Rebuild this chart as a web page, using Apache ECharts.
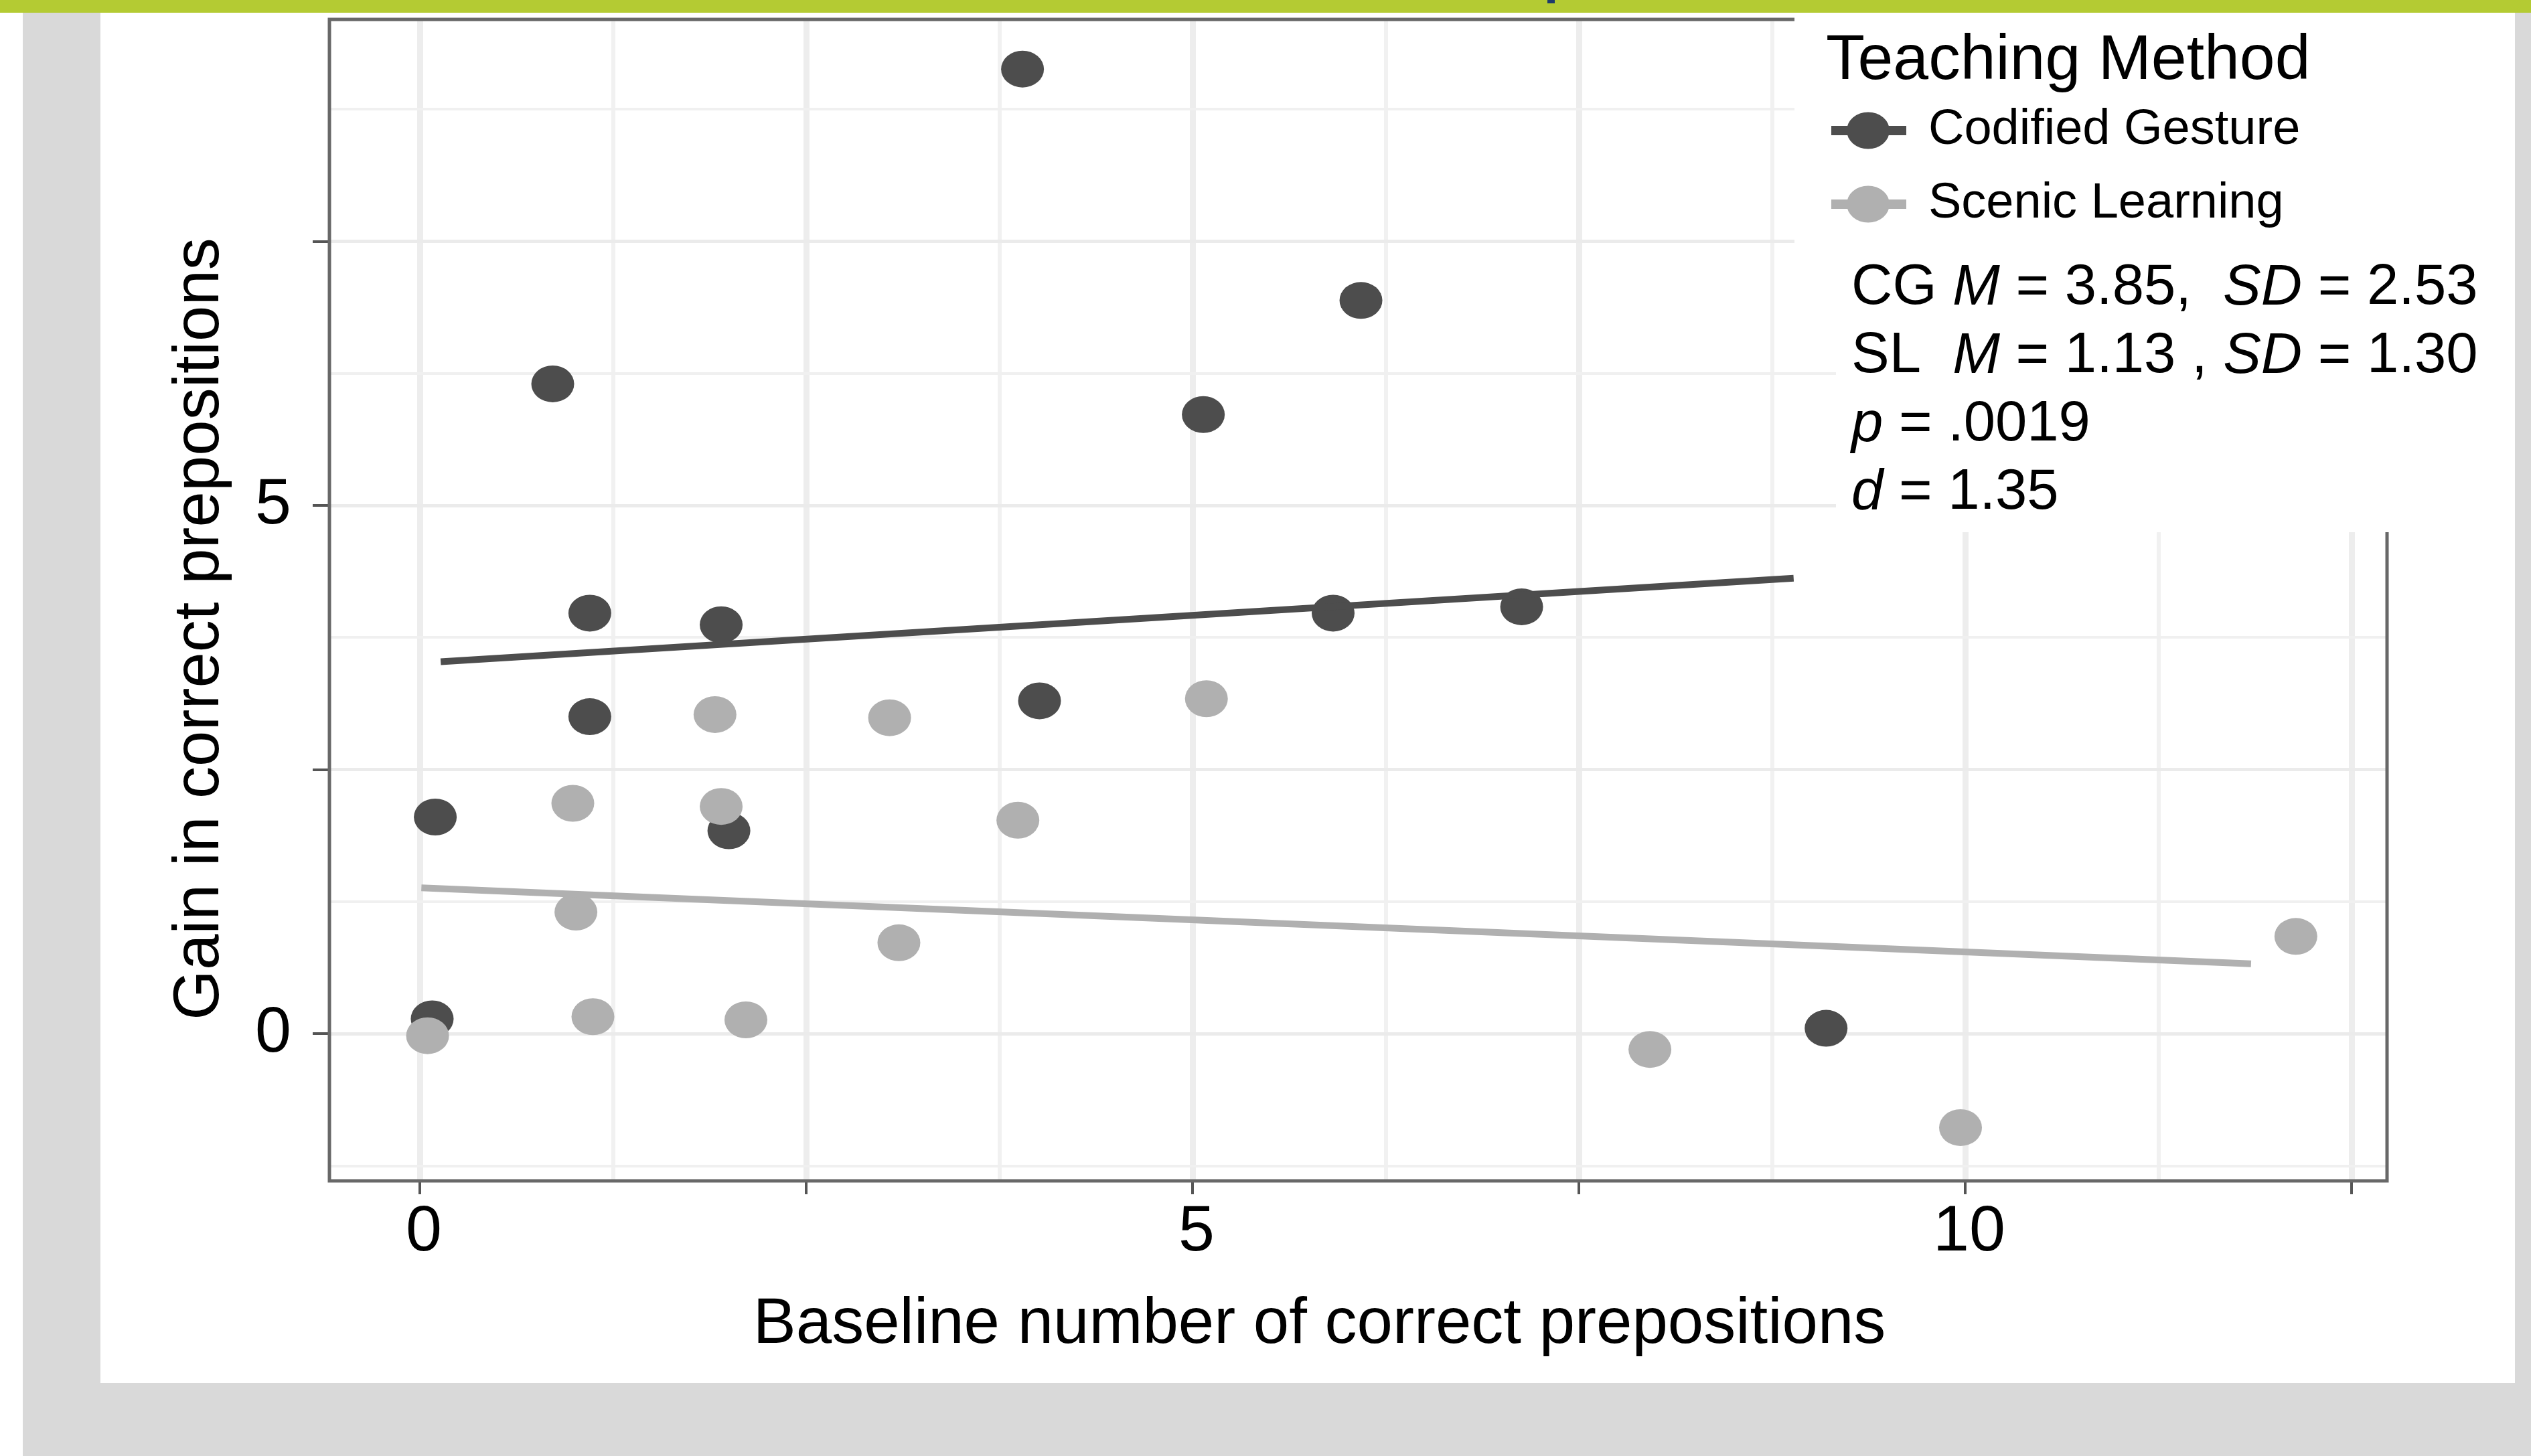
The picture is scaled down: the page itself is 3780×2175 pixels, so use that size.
<!DOCTYPE html>
<html>
<head>
<meta charset="utf-8">
<script src="https://cdn.jsdelivr.net/npm/echarts@6/dist/echarts.min.js"></script>
<style>
html,body{margin:0;padding:0;background:#fff;}
#c{width:3780px;height:2175px;}
</style>
</head>
<body>
<div id="c"></div>
<script>
// ---- data ----
const seriesNames = ['Codified Gesture', 'Scenic Learning'];
const cgPoints = [
  [3.90, 9.13], [0.86, 6.15], [6.09, 6.94], [5.07, 5.86], [1.10, 3.98],
  [1.95, 3.87], [5.91, 3.98], [7.13, 4.04], [1.10, 3.00], [4.01, 3.15],
  [0.10, 2.05], [2.00, 1.92], [0.08, 0.14], [9.10, 0.05]
];
const slPoints = [
  [0.05, -0.02], [0.99, 2.18], [1.91, 3.02], [3.04, 2.99], [5.09, 3.17],
  [1.95, 2.15], [3.87, 2.02], [1.01, 1.15], [3.10, 0.86], [1.12, 0.16],
  [2.11, 0.13], [7.96, -0.15], [9.97, -0.89], [12.14, 0.92]
];
const cgFit = [[0.135, 3.52], [8.89, 4.31]];
const slFit = [[0.01, 1.38], [11.85, 0.66]];
const xTickValues = [0, 2.5, 5, 7.5, 10, 12.5];
const xLabelValues = [0, 5, 10];
const yTickValues = [0, 2.5, 5, 7.5];
const yLabelValues = [0, 5];
const xGridValues = [0, 1.25, 2.5, 3.75, 5, 6.25, 7.5, 8.75, 10, 11.25, 12.5];
const yGridValues = [-1.25, 0, 1.25, 2.5, 3.75, 5, 6.25, 7.5, 8.75];
const xRange = [-0.585, 12.73];
const yRange = [-1.394, 9.60];
const axisTitles = { x: 'Baseline number of correct prepositions', y: 'Gain in correct prepositions' };
const legendTitle = 'Teaching Method';
const statsText = '{n|CG }{i|M}{n| = 3.85,  }{i|SD}{n| = 2.53}\n{n|SL  }{i|M}{n| = 1.13 , }{i|SD}{n| = 1.30}\n{i|p}{n| = .0019}\n{i|d}{n| = 1.35}';

// ---- styling ----
const FONT = '"Liberation Sans", Arial, Helvetica, sans-serif';
const DARK = '#4d4d4d';
const LIGHT = '#b0b0b0';

function isMajor(v) { return Math.abs(v / 2.5 - Math.round(v / 2.5)) < 1e-6; }
const vGrid = xGridValues.map(v => ({
  xAxis: v,
  lineStyle: { color: isMajor(v) ? '#ededed' : '#f1f1f1', width: isMajor(v) ? 9 : 6, type: 'solid' }
}));
const hGrid = yGridValues.map(v => ({
  yAxis: v,
  lineStyle: { color: isMajor(v) ? '#ebebeb' : '#f0f0f0', width: isMajor(v) ? 5 : 4, type: 'solid' }
}));

const keyIcon = 'path://M0,20.5H112V34.5H0Z M23,27.5A32,27.5 0 1 1 87,27.5A32,27.5 0 1 1 23,27.5Z';

const chart = echarts.init(document.getElementById('c'), null, { renderer: 'canvas', width: 3780, height: 2175 });

const option = {
  backgroundColor: '#ffffff',
  animation: false,
  grid: {
    left: 492, top: 29, width: 3073, height: 1735,
    show: true, borderColor: '#686868', borderWidth: 5, backgroundColor: 'transparent', z: 3
  },
  xAxis: {
    type: 'value', min: xRange[0], max: xRange[1],
    axisLine: { show: false, onZero: false },
    axisTick: { show: true, customValues: xTickValues, length: 20, lineStyle: { color: '#555', width: 4 } },
    axisLabel: { show: true, customValues: xLabelValues, fontSize: 97, fontFamily: FONT, color: '#000', margin: 29, padding: [0, 0, 0, 12] },
    splitLine: { show: false },
    name: axisTitles.x, nameLocation: 'middle', nameGap: 168,
    nameTextStyle: { fontSize: 96, fontFamily: FONT, color: '#000', padding: [0, 116, 0, 0] }
  },
  yAxis: {
    type: 'value', min: yRange[0], max: yRange[1],
    axisLine: { show: false, onZero: false },
    axisTick: { show: true, customValues: yTickValues, length: 25, lineStyle: { color: '#555', width: 4 } },
    axisLabel: { show: true, customValues: yLabelValues, fontSize: 97, fontFamily: FONT, color: '#000', margin: 57 },
    splitLine: { show: false },
    name: axisTitles.y, nameLocation: 'middle', nameGap: 144, nameRotate: 90,
    nameTextStyle: { fontSize: 96, fontFamily: FONT, color: '#000', padding: [0, 86, 0, 0] }
  },
  legend: {
    orient: 'vertical', left: 2735, top: 158, padding: 0,
    itemWidth: 112, itemHeight: 55, itemGap: 36, z: 60,
    selectedMode: false,
    data: [
      { name: seriesNames[0], icon: keyIcon },
      { name: seriesNames[1], icon: keyIcon }
    ],
    textStyle: { fontSize: 74, fontFamily: FONT, color: '#000', lineHeight: 74, padding: [0, 0, 0, 28] }
  },
  series: [
    {
      name: 'vgrid', type: 'scatter', data: [], silent: true, z: 1,
      markLine: { silent: true, symbol: ['none', 'none'], label: { show: false }, z: 1, animation: false, data: vGrid }
    },
    {
      name: 'hgrid', type: 'scatter', data: [], silent: true, z: 1,
      markLine: { silent: true, symbol: ['none', 'none'], label: { show: false }, z: 1, animation: false, data: hGrid }
    },
    {
      name: seriesNames[0], type: 'scatter', data: cgPoints, symbol: 'circle', symbolSize: [64, 55],
      itemStyle: { color: DARK, opacity: 1 }, z: 2
    },
    {
      name: seriesNames[1], type: 'scatter', data: slPoints, symbol: 'circle', symbolSize: [64, 55],
      itemStyle: { color: LIGHT, opacity: 1 }, z: 2
    },
    {
      name: 'CG fit', type: 'line', data: cgFit, showSymbol: false, symbol: 'none',
      lineStyle: { color: DARK, width: 10 }, z: 2.5
    },
    {
      name: 'SL fit', type: 'line', data: slFit, showSymbol: false, symbol: 'none',
      lineStyle: { color: LIGHT, width: 10 }, z: 2.5
    }
  ],
  graphic: [
    // page frame
    { type: 'rect', z: 50, shape: { x: 34, y: 19, width: 116, height: 2156 }, style: { fill: '#d9d9d9' }, silent: true },
    { type: 'rect', z: 50, shape: { x: 34, y: 2066, width: 3746, height: 109 }, style: { fill: '#d9d9d9' }, silent: true },
    { type: 'rect', z: 50, shape: { x: 3756, y: 19, width: 24, height: 2156 }, style: { fill: '#d9d9d9' }, silent: true },
    { type: 'rect', z: 51, shape: { x: 0, y: 0, width: 3780, height: 19 }, style: { fill: '#b4cb33' }, silent: true },
    { type: 'rect', z: 52, shape: { x: 2311, y: 0, width: 11, height: 5 }, style: { fill: '#1e3a6c' }, silent: true },
    // legend / annotation backing
    { type: 'rect', z: 40, shape: { x: 2680, y: 19, width: 1076, height: 451 }, style: { fill: '#ffffff' }, silent: true },
    { type: 'rect', z: 40, shape: { x: 2742, y: 19, width: 1014, height: 776 }, style: { fill: '#ffffff' }, silent: true },
    {
      type: 'text', z: 60, x: 2727, y: 92, silent: true,
      style: { text: legendTitle, fontSize: 95, fontFamily: FONT, fill: '#000', align: 'left', verticalAlign: 'middle' }
    },
    {
      type: 'text', z: 60, x: 2765, y: 380, silent: true,
      style: {
        text: statsText, fill: '#000', align: 'left', verticalAlign: 'top',
        fontSize: 85, fontFamily: FONT, lineHeight: 102,
        rich: {
          n: { fontSize: 85, fontFamily: FONT, lineHeight: 102, fill: '#000' },
          i: { fontSize: 85, fontFamily: FONT, lineHeight: 102, fontStyle: 'italic', fill: '#000' }
        }
      }
    }
  ]
};
chart.setOption(option);
</script>
</body>
</html>
